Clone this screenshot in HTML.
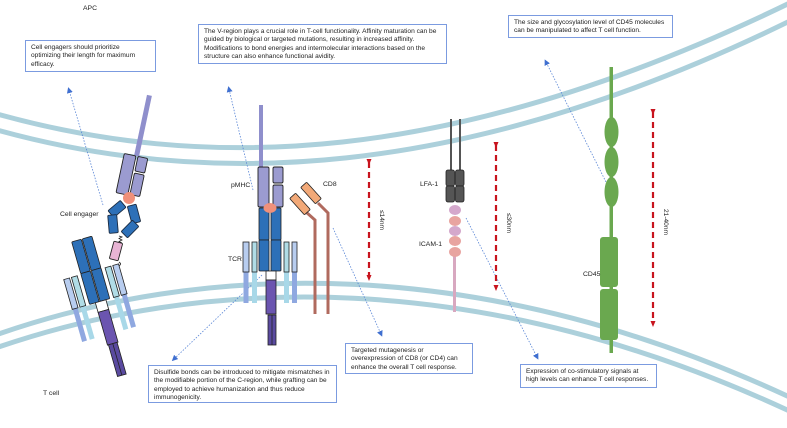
<!DOCTYPE html>
<html><head><meta charset="utf-8"><style>
html,body{margin:0;padding:0;background:#fff;}
body{width:787px;height:428px;overflow:hidden;position:relative;font-family:"Liberation Sans",Arial,sans-serif;}
.box{position:absolute;border:1.3px solid #7b9be0;background:#fff;font-size:6.6px;line-height:8.4px;color:#222;padding:3px 5px;box-sizing:border-box;}
.lbl{position:absolute;font-size:6.8px;color:#222;}
svg{position:absolute;left:0;top:0;}
</style></head><body>
<svg width="787" height="428" viewBox="0 0 787 428">
<defs>
<marker id="bh" markerUnits="userSpaceOnUse" markerWidth="6" markerHeight="6" refX="3" refY="3" orient="auto"><path d="M0,0 L6,3 L0,6z" fill="#3f6fd0"/></marker>
<marker id="rh" markerUnits="userSpaceOnUse" markerWidth="6" markerHeight="6" refX="3" refY="3" orient="auto"><path d="M0,0.5 L6,3 L0,5.5z" fill="#c8141e"/></marker>
</defs>
<g fill="none" stroke="#acd0db" stroke-width="5">
<path d="M-10,112 C200,172 450,170 800,-2"/>
<path d="M-10,128 C200,188 460,185 800,16"/>
<path d="M-10,337 C200,262 480,250 800,402"/>
<path d="M-10,350 C200,276 480,264 800,416"/>
</g>
<g stroke="#5a86d6" stroke-width="0.8" stroke-dasharray="1.5,1.5" fill="none">
<line x1="103" y1="205" x2="69" y2="90" marker-end="url(#bh)"/>
<line x1="253" y1="190" x2="229" y2="89" marker-end="url(#bh)"/>
<line x1="610" y1="190" x2="546" y2="62" marker-end="url(#bh)"/>
<line x1="262" y1="275" x2="174" y2="359" marker-end="url(#bh)"/>
<line x1="333" y1="228" x2="381" y2="334" marker-end="url(#bh)"/>
<line x1="466" y1="218" x2="537" y2="357" marker-end="url(#bh)"/>
</g>
<g transform="rotate(12 130 170)">
<rect x="131" y="93" width="5" height="62" fill="#8f8fcc"/>
<rect x="121" y="155" width="12" height="40" rx="1.5" fill="#9b9bd0" stroke="#222" stroke-width="0.9"/>
<rect x="135" y="155" width="10" height="15" rx="1.5" fill="#9b9bd0" stroke="#222" stroke-width="0.9"/>
<rect x="135" y="172" width="10" height="22" rx="1.5" fill="#9b9bd0" stroke="#222" stroke-width="0.9"/>
</g>
<g fill="#2d70b8" stroke="#1a2a40" stroke-width="0.9">
<rect x="-4.5" y="-8" width="9" height="16" rx="1" transform="translate(117,209) rotate(50)"/>
<rect x="-4.5" y="-9" width="9" height="18" rx="1" transform="translate(113,224) rotate(-5)"/>
<rect x="-4.5" y="-9" width="9" height="18" rx="1" transform="translate(134,214) rotate(-15)"/>
<rect x="-4.5" y="-8" width="9" height="16" rx="1" transform="translate(130,229) rotate(45)"/>
</g>
<circle cx="129" cy="198" r="6" fill="#f0907a"/>
<path d="M119,236 l3,1 -3,1.5 3,1.5 -3,1.5 3,1.5" fill="none" stroke="#222" stroke-width="0.8"/>
<rect x="-4.5" y="-9" width="9" height="18" rx="1" fill="#e8b4d4" stroke="#222" stroke-width="0.9" transform="translate(116,251) rotate(15)"/>
<path d="M119,262 q3,2 0,4" fill="none" stroke="#222" stroke-width="0.9"/>
<g transform="rotate(-16 100 290)">
<g stroke-width="5">
<line x1="71" y1="300" x2="71" y2="335" stroke="#8fa8e0"/>
<line x1="79" y1="300" x2="79" y2="335" stroke="#a8d8e8"/>
<line x1="114" y1="300" x2="114" y2="335" stroke="#a8d8e8"/>
<line x1="122" y1="300" x2="122" y2="335" stroke="#8fa8e0"/>
</g>
<g stroke="#222" stroke-width="0.8">
<rect x="68" y="270" width="6" height="31" fill="#b8cdef"/>
<rect x="76" y="270" width="6" height="31" fill="#b0dce6"/>
<rect x="111" y="270" width="6" height="31" fill="#b0dce6"/>
<rect x="119" y="270" width="6" height="31" fill="#b8cdef"/>
<rect x="86" y="236" width="10" height="33" rx="1" fill="#2d70b8"/>
<rect x="97" y="236" width="10" height="33" rx="1" fill="#2d70b8"/>
<rect x="86" y="269" width="10" height="32" rx="1" fill="#2d70b8"/>
<rect x="97" y="269" width="10" height="32" rx="1" fill="#2d70b8"/>
<rect x="92" y="301" width="11" height="10" fill="#fff"/>
<rect x="92" y="311" width="11" height="34" fill="#6b55b0"/>
<rect x="93" y="345" width="9" height="33" fill="#5a4aa0"/>
<line x1="97.5" y1="345" x2="97.5" y2="378"/>
</g>
</g>
<rect x="259" y="105" width="4" height="62" fill="#8f8fcc"/>
<g stroke="#222" stroke-width="0.9" fill="#9b9bd0">
<rect x="258" y="167" width="11" height="40" rx="1.5"/>
<rect x="273" y="167" width="10" height="16" rx="1.5"/>
<rect x="273" y="185" width="10" height="22" rx="1.5"/>
</g>
<g stroke-width="5">
<line x1="246" y1="272" x2="246" y2="303" stroke="#8fa8e0"/>
<line x1="254.5" y1="272" x2="254.5" y2="303" stroke="#a8d8e8"/>
<line x1="286.5" y1="272" x2="286.5" y2="303" stroke="#a8d8e8"/>
<line x1="294.5" y1="272" x2="294.5" y2="303" stroke="#8fa8e0"/>
</g>
<g stroke="#222" stroke-width="0.8">
<rect x="243" y="242" width="6" height="30" fill="#b8cdef"/>
<rect x="252" y="242" width="5" height="30" fill="#b0dce6"/>
<rect x="284" y="242" width="5" height="30" fill="#b0dce6"/>
<rect x="292" y="242" width="5" height="30" fill="#b8cdef"/>
<rect x="259" y="208" width="10" height="32" rx="1" fill="#2d70b8"/>
<rect x="271" y="208" width="10" height="32" rx="1" fill="#2d70b8"/>
<rect x="259" y="240" width="10" height="31" rx="1" fill="#2d70b8"/>
<rect x="271" y="240" width="10" height="31" rx="1" fill="#2d70b8"/>
<rect x="266" y="271" width="10" height="9" fill="#fff"/>
<rect x="266" y="280" width="10" height="34" fill="#6b55b0"/>
<rect x="268" y="315" width="8" height="30" fill="#5a4aa0"/>
<line x1="272" y1="315" x2="272" y2="345"/>
</g>
<ellipse cx="270" cy="208" rx="6.5" ry="5" fill="#f0907a"/>
<g fill="none" stroke="#b06a5e" stroke-width="3">
<path d="M306,212 L315,220 L315,314"/>
<path d="M318,203 L328,213 L328,314"/>
</g>
<g fill="#f2a978" stroke="#222" stroke-width="0.8">
<rect x="-4" y="-11" width="8" height="22" rx="1" transform="translate(300,204) rotate(-42)"/>
<rect x="-4" y="-11" width="8" height="22" rx="1" transform="translate(311,193) rotate(-42)"/>
</g>
<g stroke="#c8141e" stroke-width="2.2" stroke-dasharray="6,4">
<line x1="369" y1="162" x2="369" y2="278" marker-end="url(#rh)" marker-start="url(#rh)"/>
<line x1="496" y1="145" x2="496" y2="288" marker-end="url(#rh)" marker-start="url(#rh)"/>
<line x1="653" y1="112" x2="653" y2="324" marker-end="url(#rh)" marker-start="url(#rh)"/>
</g>
<g font-family="Liberation Sans,sans-serif" font-size="6.6" fill="#222">
<text transform="translate(380,220) rotate(90)" text-anchor="middle">≤14nm</text>
<text transform="translate(507,223) rotate(90)" text-anchor="middle">≤30nm</text>
<text transform="translate(664,222) rotate(90)" text-anchor="middle">21-40nm</text>
</g>
<g stroke="#555" stroke-width="2"><line x1="451" y1="119" x2="451" y2="172"/><line x1="460" y1="119" x2="460" y2="172"/></g>
<g fill="#555" stroke="#222" stroke-width="0.8">
<rect x="446" y="170" width="8.5" height="16" rx="2"/><rect x="455.5" y="170" width="8.5" height="16" rx="2"/>
<rect x="446" y="186" width="8.5" height="16" rx="2"/><rect x="455.5" y="186" width="8.5" height="16" rx="2"/>
</g>
<rect x="453" y="255" width="3" height="57" fill="#d8a8c0"/>
<ellipse cx="455" cy="210" rx="6" ry="5" fill="#d4a8cc"/>
<ellipse cx="455" cy="221" rx="6" ry="5" fill="#e8a4a0"/>
<ellipse cx="455" cy="231" rx="6" ry="5" fill="#d4a8cc"/>
<ellipse cx="455" cy="241" rx="6" ry="5" fill="#e8a4a0"/>
<ellipse cx="455" cy="252" rx="6" ry="5" fill="#e8a4a0"/>
<g fill="#6aa84f">
<rect x="609.5" y="67" width="3.5" height="286"/>
<ellipse cx="611.5" cy="132" rx="7" ry="15"/>
<ellipse cx="611.5" cy="162" rx="7" ry="15"/>
<ellipse cx="611.5" cy="192" rx="7" ry="15"/>
<rect x="600" y="237" width="18" height="50" rx="3"/>
<rect x="600" y="289" width="18" height="51" rx="3"/>
</g>
</svg>
<div class="lbl" style="left:83px;top:5px">APC</div>
<div class="lbl" style="left:43px;top:390px">T cell</div>
<div class="lbl" style="left:60px;top:211px">Cell engager</div>
<div class="lbl" style="left:231px;top:182px">pMHC</div>
<div class="lbl" style="left:228px;top:256px">TCR</div>
<div class="lbl" style="left:323px;top:181px">CD8</div>
<div class="lbl" style="left:420px;top:181px">LFA-1</div>
<div class="lbl" style="left:419px;top:241px">ICAM-1</div>
<div class="lbl" style="left:583px;top:271px">CD45</div>
<div class="box" style="left:25px;top:40px;width:131px;height:32px">Cell engagers should prioritize optimizing their length for maximum efficacy.</div>
<div class="box" style="left:198px;top:24px;width:249px;height:40px">The V-region plays a crucial role in T-cell functionality. Affinity maturation can be guided by biological or targeted mutations, resulting in increased affinity. Modifications to bond energies and intermolecular interactions based on the structure can also enhance functional avidity.</div>
<div class="box" style="left:508px;top:15px;width:165px;height:23px">The size and glycosylation level of CD45 molecules can be manipulated to affect T cell function.</div>
<div class="box" style="left:148px;top:365px;width:189px;height:38px">Disulfide bonds can be introduced to mitigate mismatches in the modifiable portion of the C-region, while grafting can be employed to achieve humanization and thus reduce immunogenicity.</div>
<div class="box" style="left:345px;top:343px;width:128px;height:31px">Targeted mutagenesis or overexpression of CD8 (or CD4) can enhance the overall T cell response.</div>
<div class="box" style="left:520px;top:364px;width:137px;height:24px">Expression of co-stimulatory signals at high levels can enhance T cell responses.</div>
</body></html>
